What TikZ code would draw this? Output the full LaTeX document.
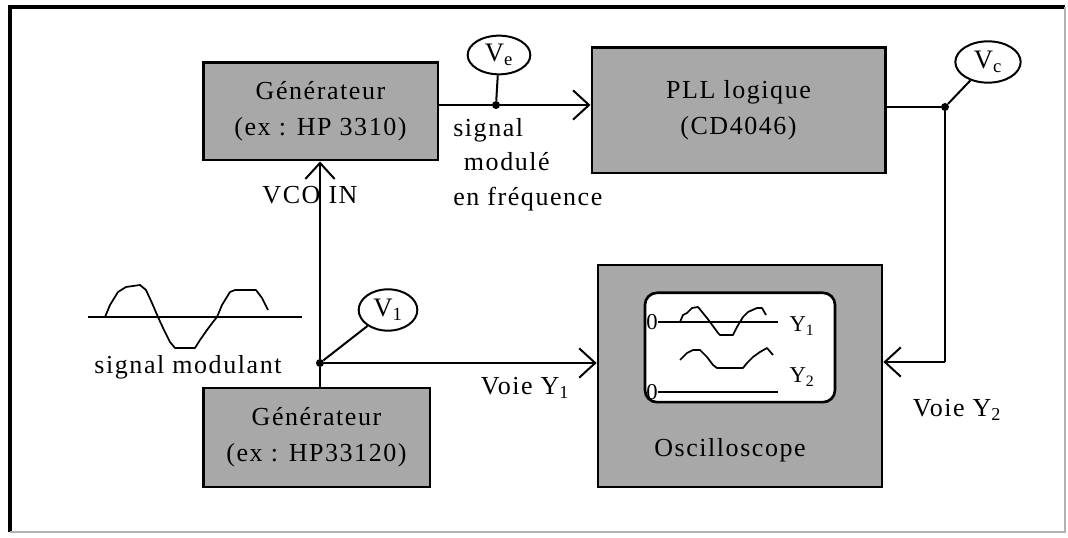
\documentclass[tikz,border=0pt]{standalone}
\usepackage{fontspec}
\setmainfont[LetterSpace=6]{Liberation Serif}
\usetikzlibrary{arrows.meta,shapes.geometric}
\begin{document}
\begin{tikzpicture}[x=0.75pt,y=-0.75pt,
  box/.style={draw=black, line width=2pt, fill=black!34, inner sep=0pt, align=center,
    font=\fontsize{19.5}{27}\selectfont},
  conn/.style={line width=1.5pt},
  arr/.style={conn, -{Straight Barb[length=12pt,width=22pt]}},
  lab/.style={draw, ellipse, line width=1.5pt, inner sep=0pt, fill=white,
    font=\fontsize{20}{22}\selectfont},
  dot/.style={circle, fill=black, inner sep=0pt, minimum size=6pt},
  txt/.style={font=\fontsize{19.5}{23}\selectfont, inner sep=0pt},
  small/.style={font=\fontsize{17}{19}\selectfont, inner sep=0pt},
  wave/.style={line width=1.3pt, line join=round}]
\useasboundingbox (0,0) rectangle (1068,538);
% frame
\draw[line width=2.5pt] (10,532) -- (10,7) -- (1065,7);
\draw[black!30, line width=1pt] (1065,7) -- (1065,532) -- (10,532);
% boxes
\node[box, minimum width=176pt, minimum height=73pt] (gen1) at (320.5,111.5) {Générateur\\(ex : HP 3310)};
\node[box, minimum width=220pt, minimum height=94pt] (pll) at (738.5,110.5) {PLL logique\\(CD4046)};
\node[box, minimum width=170pt, minimum height=74pt] (gen2) at (316.5,437.5) {Générateur\\(ex : HP33120)};
\node[box, minimum width=213pt, minimum height=166.5pt] (osc) at (740,376) {};
\node[txt] (osclab) at (730,450) {Oscilloscope};
\node[draw, line width=2pt, fill=white, rounded corners=9pt, minimum width=142.5pt, minimum height=82pt, inner sep=0pt] (screen) at (740,347.5) {};
% screen contents
\node[small] (z1) at (652,322) {0};
\node[small] (z2) at (652,392) {0};
\draw[line width=1.2pt] (z1.east) -- (778,322);
\draw[line width=1.2pt] (z2.east) -- (778,392);
\draw[wave] (680,322) -- (683,315) -- (687,313) -- (692,308) -- (698,307) -- (707,318) -- (710,322) -- (718,333) -- (720,335) -- (733,335) -- (737,327) -- (743,317) -- (748,312) -- (757,308) -- (762,308) -- (766,315);
\draw[wave] (680,360) -- (687,353) -- (693,350) -- (700,350) -- (707,357) -- (713,365) -- (717,368) -- (743,368) -- (747,363) -- (753,357) -- (760,352) -- (767,348) -- (773,355);
\node[small] (y1) at (802,326) {Y\textsubscript{1}};
\node[small] (y2) at (802,377) {Y\textsubscript{2}};
% junctions
\node[dot] (jA) at (496,105) {};
\node[dot] (jB) at (945,107) {};
\node[dot] (jV) at (320,363) {};
\coordinate (cC) at (945,362);
% labels
\node[lab, minimum width=47pt, minimum height=29pt] (ve) at (499,55) {V\textsubscript{e}};
\node[lab, minimum width=49pt, minimum height=31pt] (vc) at (988,62) {V\textsubscript{c}};
\node[lab, minimum width=44pt, minimum height=31pt] (v1) at (388,310) {V\textsubscript{1}};
% text
\node[txt] (vco) at (310,195) {VCO IN};
\node[txt, align=left, anchor=north west, font=\fontsize{19.5}{26}\selectfont] (sig) at (453,118) {signal\\\hspace*{8pt}modulé\\en fréquence};
\node[txt] (vy1) at (525,388) {Voie Y\textsubscript{1}};
\node[txt] (vy2) at (957,410) {Voie Y\textsubscript{2}};
\node[txt] (sm) at (188,367) {signal modulant};
% connectors
\draw[conn] (gen1.east |- jA) -- (jA);
\draw[arr] (jA) -- (pll.west |- jA);
\draw[conn] (ve) -- (jA);
\draw[conn] (pll.east |- jB) -- (jB) -- (cC);
\draw[arr] (cC) -- (osc.east |- cC);
\draw[conn] (vc) -- (jB);
\draw[conn] (jV |- gen2.north) -- (jV);
\draw[arr] (jV) -- (jV |- gen1.south);
\draw[arr] (jV) -- (osc.west |- jV);
\draw[conn] (v1) -- (jV);
% modulating signal sketch
\draw[line width=1.3pt] (88,317) -- (302,317);
\draw[wave] (105,317) -- (110,305) -- (118,292) -- (126,287) -- (140,285) -- (146,290) -- (152,303) -- (158,317) -- (164,330) -- (170,342) -- (175,348) -- (195,348) -- (200,340) -- (207,330) -- (213,322) -- (217,317) -- (222,305) -- (230,292) -- (235,290) -- (256,290) -- (262,298) -- (268,310);
\end{tikzpicture}
\end{document}
